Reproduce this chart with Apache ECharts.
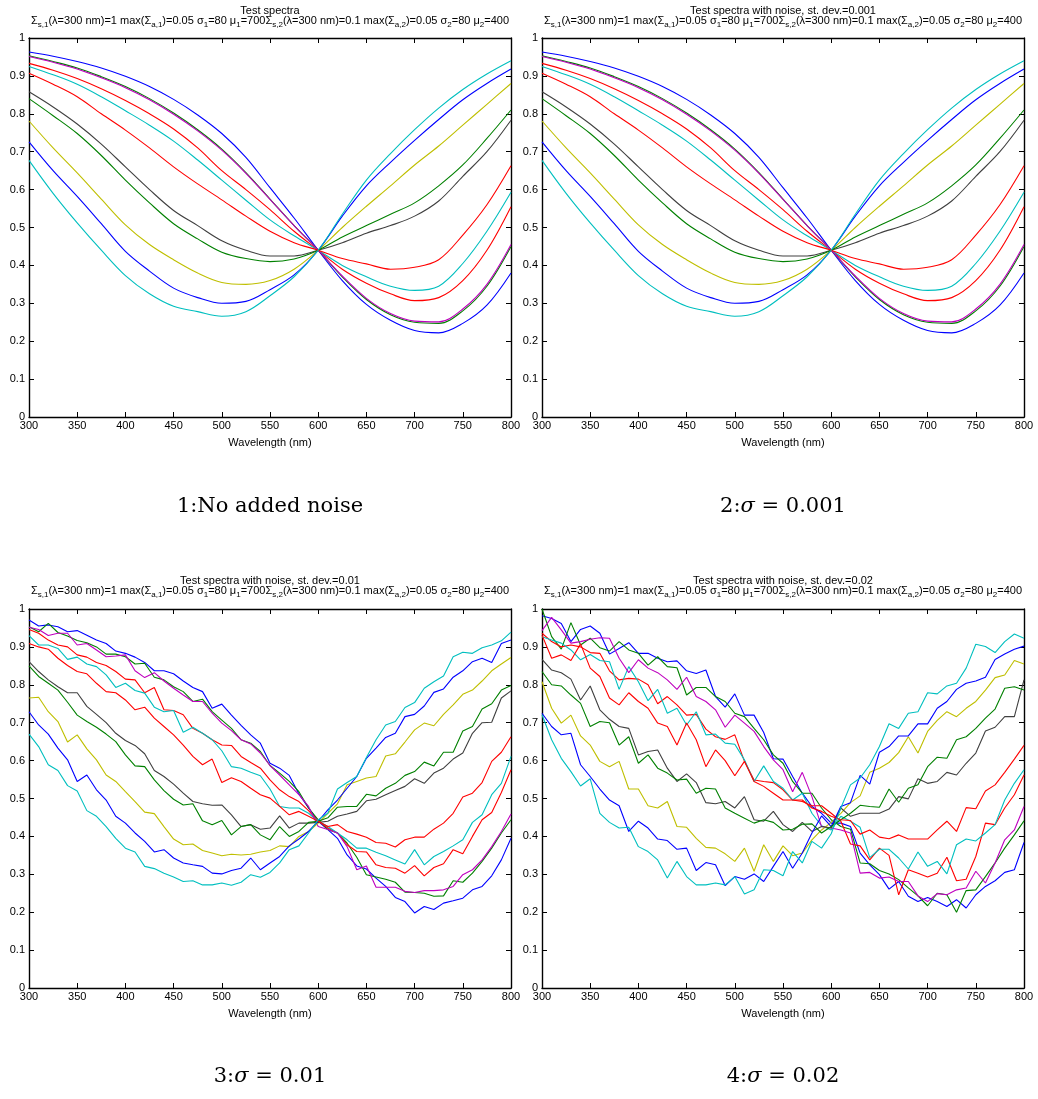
<!DOCTYPE html>
<html>
<head>
<meta charset="utf-8">
<script src="https://cdn.jsdelivr.net/npm/echarts@6/dist/echarts.min.js"></script>
<style>
html,body{margin:0;padding:0;background:#fff;}
#chart{width:1038px;height:1099px;}
</style>
</head>
<body>
<div id="chart"></div>
<script>
// ---------- data ----------
const WL_SMOOTH = [300,325,350,375,400,425,450,475,500,525,550,575,600,625,650,675,700,725,750,775,800];
const WL_NOISY = [300,310,320,330,340,350,360,370,380,390,400,410,420,430,440,450,460,470,480,490,500,510,520,530,540,550,560,570,580,590,600,610,620,630,640,650,660,670,680,690,700,710,720,730,740,750,760,770,780,790,800];
const X_TICKS = [300,350,400,450,500,550,600,650,700,750,800];
const Y_TICKS = [0,0.1,0.2,0.3,0.4,0.5,0.6,0.7,0.8,0.9,1];
const COLORS = ['#0000ff','#008000','#ff0000','#00bfbf','#bf00bf','#bfbf00','#404040','#0000ff','#008000','#ff0000','#00bfbf'];

// Noise-free spectra (panel 1) and st.dev 0.001 spectra (panel 2, indistinguishable)
const S1 = [.963,.952,.938,.921,.899,.872,.838,.797,.748,.685,.605,.525,.44,.36,.297,.255,.228,.222,.247,.295,.38];
const S2 = [.953,.938,.921,.898,.872,.840,.802,.758,.707,.645,.575,.505,.44,.37,.31,.27,.25,.247,.28,.345,.45];
const S3 = [.933,.915,.893,.866,.835,.80,.76,.71,.65,.60,.547,.49,.44,.39,.353,.325,.307,.315,.36,.44,.555];
const S4 = [.925,.903,.878,.845,.808,.77,.728,.678,.625,.572,.52,.478,.44,.40,.37,.345,.334,.345,.405,.49,.593];
const S5 = [.951,.936,.918,.895,.869,.837,.799,.755,.704,.643,.574,.505,.44,.372,.313,.273,.253,.251,.285,.35,.455];
const S6 = [.781,.71,.644,.575,.507,.455,.415,.38,.355,.35,.36,.39,.44,.50,.556,.61,.665,.715,.77,.825,.88];
const S7 = [.858,.818,.773,.72,.66,.60,.545,.505,.465,.44,.425,.425,.44,.46,.485,.505,.53,.57,.635,.70,.783];
const S8 = [.726,.65,.582,.51,.437,.385,.34,.315,.30,.305,.336,.375,.44,.53,.61,.672,.73,.785,.837,.88,.918];
const S9 = [.84,.795,.748,.69,.625,.565,.51,.47,.435,.418,.41,.417,.44,.475,.505,.535,.565,.61,.665,.735,.81];
const S10 = [.907,.878,.845,.80,.757,.71,.66,.615,.573,.53,.49,.46,.44,.418,.404,.39,.395,.415,.48,.56,.663];
const S11 = [.677,.59,.512,.44,.373,.325,.292,.278,.266,.278,.32,.37,.44,.535,.625,.695,.758,.815,.864,.905,.94];

// st.dev 0.01 (panel 3)
const N1_1 = [0.971,0.955,0.958,0.953,0.94,0.943,0.931,0.918,0.909,0.889,0.883,0.873,0.859,0.837,0.837,0.829,0.81,0.793,0.782,0.738,0.749,0.72,0.693,0.668,0.646,0.593,0.58,0.561,0.512,0.475,0.44,0.418,0.395,0.351,0.322,0.314,0.29,0.268,0.239,0.228,0.198,0.215,0.207,0.224,0.23,0.237,0.259,0.268,0.296,0.338,0.395];
const N1_2 = [0.953,0.94,0.962,0.938,0.929,0.917,0.911,0.90,0.881,0.881,0.874,0.855,0.857,0.82,0.813,0.795,0.782,0.756,0.762,0.729,0.707,0.685,0.655,0.646,0.624,0.587,0.567,0.545,0.518,0.475,0.444,0.418,0.409,0.382,0.345,0.299,0.293,0.287,0.279,0.253,0.252,0.25,0.242,0.243,0.283,0.279,0.303,0.334,0.369,0.409,0.444];
const N1_3 = [0.946,0.936,0.918,0.905,0.90,0.879,0.873,0.859,0.851,0.835,0.815,0.813,0.779,0.793,0.734,0.732,0.721,0.685,0.672,0.655,0.641,0.64,0.611,0.595,0.58,0.549,0.523,0.505,0.492,0.468,0.44,0.422,0.409,0.378,0.36,0.359,0.325,0.318,0.316,0.303,0.323,0.296,0.318,0.328,0.365,0.354,0.40,0.444,0.463,0.516,0.576];
const N1_4 = [0.93,0.905,0.905,0.896,0.867,0.873,0.855,0.848,0.826,0.793,0.804,0.785,0.778,0.741,0.729,0.732,0.675,0.688,0.672,0.655,0.626,0.584,0.58,0.569,0.56,0.525,0.479,0.475,0.475,0.461,0.44,0.426,0.409,0.391,0.369,0.369,0.358,0.349,0.338,0.327,0.365,0.325,0.347,0.36,0.375,0.391,0.437,0.457,0.51,0.54,0.611];
const N1_5 = [0.952,0.946,0.93,0.936,0.936,0.905,0.909,0.892,0.874,0.876,0.879,0.837,0.819,0.832,0.81,0.791,0.773,0.756,0.756,0.725,0.699,0.679,0.655,0.644,0.62,0.587,0.562,0.536,0.51,0.479,0.426,0.418,0.409,0.373,0.312,0.322,0.266,0.266,0.266,0.255,0.252,0.257,0.257,0.259,0.268,0.299,0.312,0.338,0.373,0.413,0.459];
const N1_6 = [0.765,0.767,0.729,0.703,0.649,0.668,0.631,0.602,0.562,0.545,0.518,0.492,0.464,0.46,0.426,0.393,0.378,0.38,0.363,0.356,0.349,0.353,0.351,0.353,0.359,0.363,0.375,0.373,0.40,0.413,0.435,0.461,0.486,0.536,0.545,0.554,0.558,0.612,0.618,0.649,0.681,0.699,0.692,0.722,0.747,0.775,0.786,0.81,0.837,0.855,0.872];
const N1_7 = [0.861,0.835,0.813,0.795,0.779,0.779,0.743,0.722,0.70,0.672,0.653,0.64,0.618,0.574,0.558,0.538,0.514,0.492,0.486,0.482,0.483,0.457,0.426,0.431,0.419,0.422,0.454,0.422,0.435,0.435,0.437,0.44,0.453,0.459,0.466,0.494,0.498,0.51,0.521,0.532,0.552,0.54,0.567,0.58,0.604,0.62,0.672,0.70,0.701,0.765,0.784];
const N1_8 = [0.729,0.694,0.67,0.633,0.602,0.545,0.562,0.523,0.496,0.453,0.435,0.409,0.387,0.359,0.365,0.343,0.33,0.325,0.321,0.303,0.301,0.31,0.316,0.343,0.312,0.33,0.347,0.375,0.393,0.413,0.44,0.47,0.496,0.527,0.558,0.606,0.633,0.661,0.672,0.716,0.722,0.744,0.78,0.789,0.82,0.837,0.861,0.87,0.859,0.909,0.918];
const N1_9 = [0.85,0.822,0.804,0.786,0.754,0.72,0.703,0.688,0.67,0.65,0.615,0.586,0.584,0.549,0.521,0.498,0.483,0.486,0.441,0.431,0.442,0.404,0.426,0.431,0.404,0.391,0.426,0.40,0.413,0.437,0.44,0.449,0.477,0.479,0.479,0.511,0.507,0.527,0.54,0.561,0.571,0.596,0.586,0.622,0.622,0.678,0.69,0.736,0.75,0.786,0.798];
const N1_10 = [0.909,0.90,0.894,0.87,0.851,0.835,0.829,0.804,0.782,0.779,0.76,0.734,0.741,0.712,0.69,0.668,0.641,0.611,0.589,0.604,0.542,0.555,0.545,0.527,0.51,0.501,0.479,0.457,0.466,0.453,0.44,0.426,0.431,0.413,0.406,0.398,0.384,0.382,0.372,0.391,0.398,0.398,0.419,0.435,0.461,0.504,0.514,0.542,0.598,0.622,0.663];
const N1_11 = [0.67,0.637,0.589,0.574,0.534,0.52,0.468,0.453,0.426,0.395,0.369,0.359,0.321,0.315,0.303,0.293,0.281,0.283,0.272,0.272,0.277,0.271,0.279,0.299,0.292,0.305,0.33,0.365,0.375,0.409,0.444,0.461,0.525,0.542,0.558,0.608,0.655,0.694,0.703,0.74,0.753,0.791,0.808,0.823,0.874,0.886,0.883,0.898,0.905,0.916,0.939];

// st.dev 0.02 (panel 4)
const N2_1 = [0.982,0.975,0.962,0.914,0.946,0.955,0.936,0.881,0.896,0.911,0.883,0.883,0.87,0.861,0.863,0.837,0.83,0.839,0.769,0.741,0.776,0.72,0.72,0.674,0.605,0.604,0.558,0.514,0.479,0.461,0.435,0.435,0.426,0.356,0.325,0.299,0.261,0.281,0.242,0.228,0.239,0.228,0.215,0.233,0.211,0.246,0.268,0.283,0.305,0.312,0.384];
const N2_2 = [1.0,0.927,0.894,0.964,0.905,0.923,0.898,0.889,0.914,0.892,0.883,0.852,0.874,0.848,0.845,0.773,0.793,0.793,0.769,0.756,0.725,0.716,0.685,0.655,0.615,0.593,0.545,0.514,0.514,0.475,0.444,0.426,0.419,0.33,0.328,0.31,0.301,0.286,0.264,0.243,0.217,0.25,0.246,0.20,0.257,0.259,0.294,0.33,0.369,0.404,0.441];
const N2_3 = [0.936,0.914,0.90,0.905,0.90,0.885,0.883,0.837,0.813,0.817,0.815,0.80,0.75,0.769,0.747,0.72,0.722,0.683,0.663,0.656,0.668,0.598,0.549,0.545,0.542,0.523,0.496,0.492,0.481,0.481,0.461,0.44,0.38,0.375,0.338,0.369,0.35,0.246,0.312,0.303,0.293,0.303,0.345,0.283,0.287,0.347,0.435,0.431,0.475,0.51,0.562];
const N2_4 = [0.927,0.918,0.91,0.892,0.866,0.88,0.864,0.861,0.788,0.848,0.808,0.758,0.788,0.725,0.738,0.694,0.729,0.668,0.67,0.646,0.643,0.602,0.545,0.586,0.545,0.527,0.496,0.514,0.461,0.428,0.417,0.453,0.44,0.424,0.344,0.366,0.366,0.343,0.314,0.359,0.321,0.334,0.301,0.378,0.393,0.388,0.409,0.431,0.496,0.54,0.576];
const N2_5 = [0.943,0.978,0.945,0.91,0.914,0.92,0.924,0.923,0.87,0.832,0.866,0.844,0.832,0.813,0.788,0.82,0.769,0.756,0.734,0.688,0.72,0.699,0.677,0.637,0.602,0.576,0.518,0.569,0.505,0.426,0.422,0.417,0.409,0.303,0.305,0.29,0.293,0.281,0.281,0.243,0.228,0.249,0.246,0.259,0.264,0.308,0.277,0.33,0.391,0.417,0.479];
const N2_6 = [0.808,0.738,0.699,0.72,0.665,0.641,0.598,0.584,0.598,0.525,0.525,0.481,0.475,0.492,0.426,0.424,0.395,0.371,0.369,0.354,0.334,0.369,0.308,0.378,0.334,0.375,0.349,0.356,0.391,0.417,0.437,0.461,0.489,0.507,0.569,0.58,0.595,0.621,0.663,0.62,0.677,0.706,0.729,0.716,0.738,0.756,0.786,0.819,0.826,0.864,0.855];
const N2_7 = [0.867,0.839,0.832,0.815,0.76,0.797,0.734,0.709,0.69,0.685,0.615,0.624,0.628,0.58,0.545,0.565,0.542,0.489,0.486,0.492,0.475,0.505,0.444,0.44,0.466,0.431,0.413,0.437,0.413,0.426,0.422,0.475,0.453,0.461,0.461,0.461,0.472,0.505,0.499,0.552,0.54,0.545,0.569,0.562,0.593,0.62,0.678,0.688,0.716,0.716,0.813];
const N2_8 = [0.725,0.69,0.668,0.672,0.589,0.558,0.525,0.496,0.481,0.413,0.44,0.422,0.393,0.389,0.366,0.369,0.31,0.331,0.325,0.27,0.294,0.287,0.301,0.281,0.321,0.36,0.316,0.356,0.409,0.454,0.426,0.479,0.489,0.561,0.538,0.622,0.637,0.665,0.665,0.697,0.697,0.738,0.756,0.788,0.804,0.81,0.82,0.867,0.881,0.894,0.902];
const N2_9 = [0.835,0.80,0.797,0.773,0.751,0.69,0.703,0.70,0.641,0.663,0.593,0.615,0.58,0.567,0.549,0.551,0.514,0.527,0.525,0.475,0.461,0.448,0.435,0.444,0.437,0.417,0.419,0.432,0.433,0.409,0.426,0.444,0.461,0.482,0.479,0.477,0.525,0.49,0.527,0.536,0.584,0.609,0.606,0.655,0.663,0.685,0.712,0.736,0.791,0.795,0.786];
const N2_10 = [0.931,0.87,0.879,0.864,0.908,0.844,0.822,0.765,0.747,0.779,0.756,0.738,0.699,0.69,0.641,0.699,0.655,0.584,0.628,0.60,0.56,0.598,0.545,0.532,0.514,0.496,0.496,0.496,0.475,0.466,0.453,0.444,0.442,0.406,0.417,0.398,0.394,0.404,0.393,0.393,0.393,0.417,0.44,0.413,0.476,0.473,0.52,0.536,0.569,0.604,0.64];
const N2_11 = [0.721,0.655,0.606,0.571,0.533,0.552,0.461,0.437,0.422,0.424,0.373,0.36,0.338,0.29,0.334,0.294,0.272,0.272,0.277,0.272,0.294,0.248,0.259,0.312,0.31,0.296,0.36,0.33,0.387,0.369,0.407,0.475,0.536,0.554,0.589,0.637,0.697,0.685,0.725,0.729,0.779,0.776,0.797,0.804,0.844,0.907,0.901,0.885,0.914,0.934,0.923];

const PANEL_TITLES = ['Test spectra','Test spectra with noise, st. dev.=0.001','Test spectra with noise, st. dev.=0.01','Test spectra with noise, st. dev.=0.02'];
const SUBTITLE = 'Σ{s|s,1}(λ=300 nm)=1 max(Σ{s|a,1})=0.05 σ{s|1}=80 μ{s|1}=700Σ{s|s,2}(λ=300 nm)=0.1 max(Σ{s|a,2})=0.05 σ{s|2}=80 μ{s|2}=400';
const CAPTIONS = ['1:No added noise','2:{i|σ} = 0.001','3:{i|σ} = 0.01','4:{i|σ} = 0.02'];
const X_NAME = 'Wavelength (nm)';

const PANEL_SERIES = [
  {x: WL_SMOOTH, lines: [S1,S2,S3,S4,S5,S6,S7,S8,S9,S10,S11], smooth: true},
  {x: WL_SMOOTH, lines: [S1,S2,S3,S4,S5,S6,S7,S8,S9,S10,S11], smooth: true},
  {x: WL_NOISY, lines: [N1_1,N1_2,N1_3,N1_4,N1_5,N1_6,N1_7,N1_8,N1_9,N1_10,N1_11], smooth: false},
  {x: WL_NOISY, lines: [N2_1,N2_2,N2_3,N2_4,N2_5,N2_6,N2_7,N2_8,N2_9,N2_10,N2_11], smooth: false}
];

// ---------- layout ----------
const FONT = 'Liberation Sans, Arial, Helvetica, sans-serif';
const GRIDS = [
  {left: 29, top: 38, width: 482, height: 379},
  {left: 542, top: 38, width: 482, height: 379},
  {left: 29, top: 609, width: 482, height: 379},
  {left: 542, top: 609, width: 482, height: 379}
];
const TITLE_Y = [11, 11, 581, 581];
const CAPTION_Y = [507, 507, 1077, 1077];

const chart = echarts.init(document.getElementById('chart'), null, {renderer: 'canvas'});

const grid = [], xAxis = [], yAxis = [], series = [], graphic = [];
const axisLine = {show: true, onZero: false, lineStyle: {color: '#000', width: 1.4}};
const axisTick = {show: true, inside: true, length: 5, lineStyle: {color: '#000', width: 1}};

GRIDS.forEach((g, i) => {
  grid.push(Object.assign({containLabel: false}, g));
  const xBase = {type: 'value', gridIndex: i, min: X_TICKS[0], max: X_TICKS[X_TICKS.length-1], interval: X_TICKS[1]-X_TICKS[0],
    axisLine, axisTick, splitLine: {show: false}};
  xAxis.push(Object.assign({}, xBase, {position: 'bottom',
    name: X_NAME, nameLocation: 'middle', nameGap: 20,
    nameTextStyle: {fontFamily: FONT, fontSize: 11, color: '#000'},
    axisLabel: {show: true, fontFamily: FONT, fontSize: 11, color: '#000', margin: 3}}));
  xAxis.push(Object.assign({}, xBase, {position: 'top', axisLabel: {show: false}}));
  const yBase = {type: 'value', gridIndex: i, min: Y_TICKS[0], max: Y_TICKS[Y_TICKS.length-1], interval: 0.1,
    axisLine, axisTick, splitLine: {show: false}};
  yAxis.push(Object.assign({}, yBase, {position: 'left',
    axisLabel: {show: true, fontFamily: FONT, fontSize: 11, color: '#000', margin: 4,
      formatter: v => String(Math.round(v * 10) / 10)}}));
  yAxis.push(Object.assign({}, yBase, {position: 'right', axisLabel: {show: false}}));

  const p = PANEL_SERIES[i];
  p.lines.forEach((vals, k) => {
    series.push({
      type: 'line', xAxisIndex: 2*i, yAxisIndex: 2*i,
      data: p.x.map((w, j) => [w, vals[j]]),
      showSymbol: false, symbol: 'none', smooth: p.smooth ? 0.35 : false,
      lineStyle: {color: COLORS[k], width: 1.1}, itemStyle: {color: COLORS[k]},
      z: 2 + k * 0.01, silent: true
    });
  });

  const cx = g.left + g.width / 2;
  graphic.push({type: 'text', x: cx, y: TITLE_Y[i], silent: true,
    style: {text: PANEL_TITLES[i], fontFamily: FONT, fontSize: 11, fill: '#000', align: 'center', verticalAlign: 'middle'}});
  graphic.push({type: 'text', x: cx, y: TITLE_Y[i] + 10, silent: true,
    style: {text: SUBTITLE, fontFamily: FONT, fontSize: 11, lineHeight: 15, fill: '#000', align: 'center', verticalAlign: 'middle',
      rich: {s: {fontFamily: FONT, fontSize: 8, lineHeight: 8, verticalAlign: 'bottom', fill: '#000'}}}});
  graphic.push({type: 'text', x: cx, y: CAPTION_Y[i], silent: true,
    style: {text: CAPTIONS[i], fontFamily: 'DejaVu Serif, serif', fontSize: 21, fill: '#000', align: 'center', verticalAlign: 'middle',
      rich: {i: {fontFamily: 'DejaVu Serif, serif', fontSize: 21, fontStyle: 'italic', fill: '#000'}}}});
});

chart.setOption({
  animation: false,
  backgroundColor: '#fff',
  grid, xAxis, yAxis, series, graphic
});
</script>
</body>
</html>
